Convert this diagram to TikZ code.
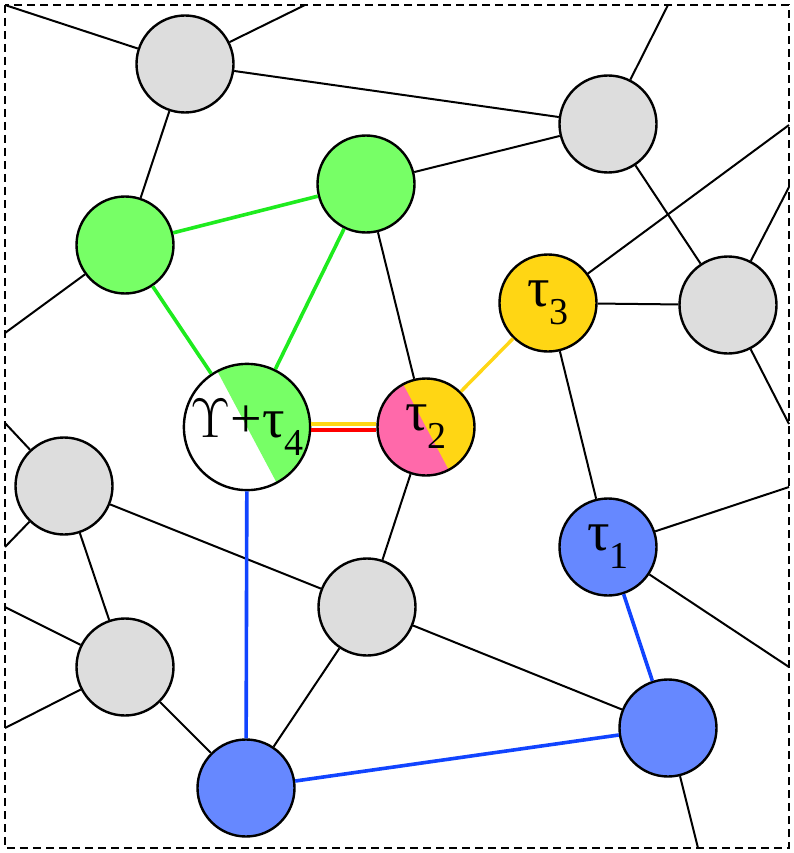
\documentclass[tikz,border=0pt]{standalone}
\usepackage{fix-cm}
\usepackage{fontspec}
\setmainfont{Liberation Serif}
\definecolor{grayfill}{RGB}{221,221,221}
\definecolor{greenfill}{RGB}{119,255,102}
\definecolor{greenline}{RGB}{30,235,30}
\definecolor{bluefill}{RGB}{102,136,255}
\definecolor{blueline}{RGB}{17,68,255}
\definecolor{yel}{RGB}{255,214,20}
\definecolor{pinkfill}{RGB}{255,105,170}
\definecolor{redline}{RGB}{255,0,0}
\newcommand\tsub[1]{\raisebox{-18pt}{\fontsize{38}{40}\selectfont #1}}
\begin{document}
\begin{tikzpicture}[x=1pt,y=-1pt,
  vertex/.style={circle,draw=black,line width=2.4pt,minimum size=97pt,inner sep=0pt,
    font=\fontsize{56}{58}\selectfont},
  grayv/.style={vertex,fill=grayfill},
  greenv/.style={vertex,fill=greenfill},
  bluev/.style={vertex,fill=bluefill},
  yelv/.style={vertex,fill=yel},
  halfv/.style={path picture={\fill[#1]
     ([shift={(-33,-62)}]path picture bounding box.center) -- ++(62,-33)
     -- ++(66,124) -- ++(-62,33) -- cycle;}},
  edge/.style={line width=2pt,black},
  gedge/.style={line width=3.6pt,greenline},
  bedge/.style={line width=3.6pt,blueline},
  yedge/.style={line width=3.4pt,yel},
  redge/.style={line width=3.4pt,redline},
  frame/.style={line width=2.2pt,dash pattern=on 8pt off 5pt}]
\useasboundingbox (0,0) rectangle (793,853);
\draw[frame] (5,5) rectangle (789,848);
% free ends on the frame
\coordinate (c1) at (5,5);
\coordinate (c2) at (305,5);
\coordinate (c3) at (668,5);
\coordinate (c4) at (5,333);
\coordinate (c5) at (789,125);
\coordinate (c6) at (789,187);
\coordinate (c7) at (789,424);
\coordinate (c8) at (5,423);
\coordinate (c9) at (5,547);
\coordinate (c10) at (5,607);
\coordinate (c11) at (5,728);
\coordinate (c12) at (789,487);
\coordinate (c13) at (789,667);
\coordinate (c14) at (698,848);
% nodes
\node[grayv] (G1) at (185,64) {};
\node[grayv] (G2) at (608,124) {};
\node[greenv] (Gr1) at (125,245) {};
\node[greenv] (Gr2) at (366,184) {};
\node[vertex,fill=white,minimum size=122pt,halfv=greenfill] (U) at (247,427)
  {$\Upsilon$+τ\tsub{4}};
\node[vertex,fill=pinkfill,halfv=yel] (T2) at (426,427) {τ\tsub{2}};
\node[yelv] (T3) at (548,303) {τ\tsub{3}};
\node[grayv] (G3) at (728,305) {};
\node[bluev] (T1) at (608,547) {τ\tsub{1}};
\node[grayv] (GC) at (367,607) {};
\node[grayv] (GL) at (64,486) {};
\node[grayv] (GLL) at (125,667) {};
\node[bluev] (BB) at (246,788) {};
\node[bluev] (BR) at (668,728) {};
% black edges
\draw[edge] (c1) -- (G1);
\draw[edge] (G1) -- (c2);
\draw[edge] (G1) -- (G2);
\draw[edge] (G1) -- (Gr1);
\draw[edge] (G2) -- (c3);
\draw[edge] (G2) -- (Gr2);
\draw[edge] (G2) -- (G3);
\draw[edge] (Gr1) -- (c4);
\draw[edge] (Gr2) -- (T2);
\draw[edge] (T3) -- (c5);
\draw[edge] (T3) -- (G3);
\draw[edge] (T3) -- (T1);
\draw[edge] (G3) -- (c6);
\draw[edge] (G3) -- (c7);
\draw[edge] (T2) -- (GC);
\draw[edge] (GL) -- (c8);
\draw[edge] (GL) -- (c9);
\draw[edge] (GL) -- (GC);
\draw[edge] (GC) -- (BR);
\draw[edge] (GL) -- (GLL);
\draw[edge] (c10) -- (GLL);
\draw[edge] (GLL) -- (c11);
\draw[edge] (GLL) -- (BB);
\draw[edge] (GC) -- (BB);
\draw[edge] (T1) -- (c12);
\draw[edge] (T1) -- (c13);
\draw[edge] (BR) -- (c14);
% coloured edges
\draw[gedge] (Gr1) -- (Gr2);
\draw[gedge] (Gr1) -- (U);
\draw[gedge] (Gr2) -- (U);
\draw[yedge,transform canvas={yshift=3pt}] (U) -- (T2);
\draw[redge,transform canvas={yshift=-3pt}] (U) -- (T2);
\draw[yedge] (T2) -- (T3);
\draw[bedge] (U) -- (BB);
\draw[bedge] (BB) -- (BR);
\draw[bedge] (T1) -- (BR);
\end{tikzpicture}
\end{document}
